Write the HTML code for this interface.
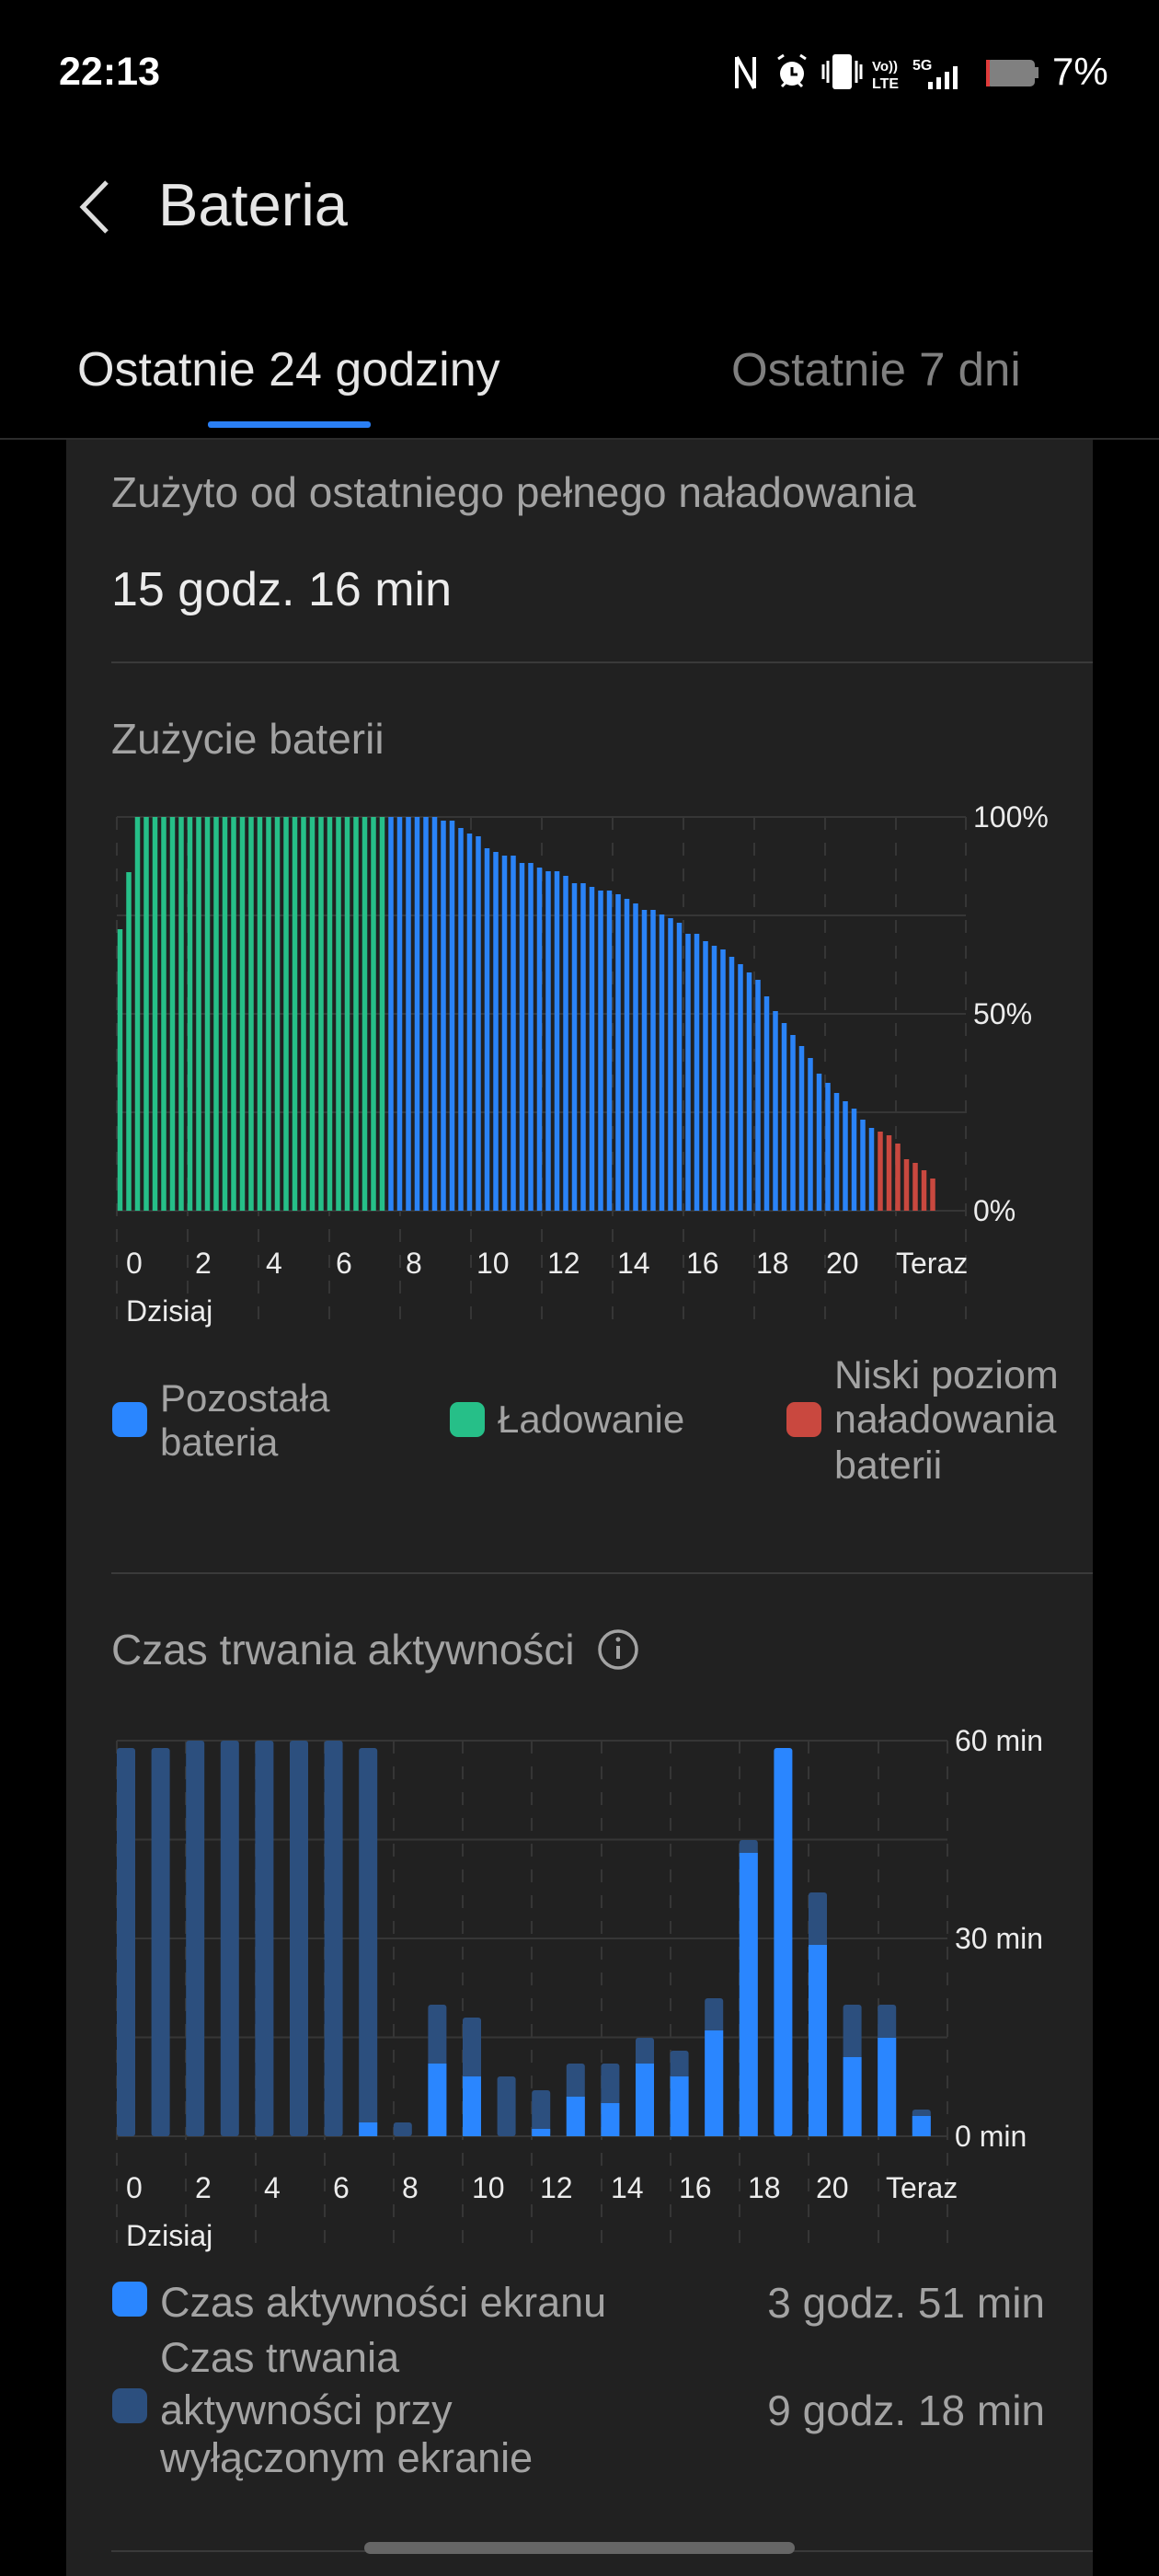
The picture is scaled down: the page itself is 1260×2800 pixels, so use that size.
<!DOCTYPE html>
<html><head><meta charset="utf-8">
<style>
*{margin:0;padding:0;box-sizing:border-box}
body{width:1260px;height:2800px;background:#000;position:relative;overflow:hidden;font-family:"Liberation Sans",sans-serif}
.t{position:absolute;white-space:nowrap;height:60px;line-height:60px}
.card{position:absolute;left:72px;top:478px;width:1116px;height:2322px;background:#212121}
.g{color:#a3a3a3}
.sq{position:absolute;width:38px;height:38px;border-radius:9px}
</style></head><body>
<div class="t" style="left:64px;top:48px;font-size:43px;color:#fff;font-weight:bold">22:13</div>
<svg style="position:absolute;left:780px;top:40px" width="440" height="80">
<path d="M21 22 V56 M21 22 L40 56 M40 22 V56" stroke="#fff" stroke-width="4" fill="none"/>
<circle cx="81" cy="40" r="13" fill="#fff"/><path d="M81 33 V41 H87" stroke="#000" stroke-width="3" fill="none"/>
<path d="M66 24 L72 20 M96 24 L90 20 M70 54 L74 50 M92 54 L88 50" stroke="#fff" stroke-width="3"/>
<rect x="125" y="19" width="21" height="38" rx="3" fill="#fff"/>
<path d="M115 30 V46 M120 26 V50 M151 26 V50 M156 30 V46" stroke="#fff" stroke-width="3"/>
<text x="168" y="37" font-size="15" font-weight="bold" fill="#fff" font-family="Liberation Sans">Vo))</text>
<text x="168" y="56" font-size="16" font-weight="bold" fill="#fff" font-family="Liberation Sans">LTE</text>
<text x="212" y="36" font-size="16" font-weight="bold" fill="#fff" font-family="Liberation Sans">5G</text>
<rect x="229" y="49" width="5" height="8" fill="#fff"/><rect x="238" y="44" width="5" height="13" fill="#fff"/><rect x="247" y="38" width="5" height="19" fill="#fff"/><rect x="256" y="32" width="5" height="25" fill="#fff"/>
<rect x="292" y="25" width="53" height="29" rx="5" fill="#808080"/><rect x="345" y="33" width="4" height="12" fill="#808080"/><rect x="292" y="25" width="4" height="29" fill="#e03b3b"/>
</svg>
<div class="t" style="left:1144px;top:48px;font-size:42px;color:#fff">7%</div>
<svg style="position:absolute;left:80px;top:195px" width="40" height="60"><path d="M36 3 L10 30 L36 57" stroke="#ddd" stroke-width="5" fill="none"/></svg>
<div class="t" style="left:172px;top:193px;font-size:65px;color:#e6e6e6">Bateria</div>
<div class="t" style="left:84px;top:372px;font-size:52px;color:#e6e6e6">Ostatnie 24 godziny</div>
<div class="t" style="left:795px;top:372px;font-size:51px;color:#7f7f7f">Ostatnie 7 dni</div>
<div style="position:absolute;left:226px;top:458px;width:177px;height:7px;border-radius:3px;background:#2a7ff5"></div>
<div style="position:absolute;left:0;top:476px;width:1260px;height:2px;background:#2c2c2c"></div>
<div class="card"></div>
<div class="t g" style="left:121px;top:505px;font-size:46px">Zużyto od ostatniego pełnego naładowania</div>
<div class="t" style="left:121px;top:611px;font-size:52px;color:#ececec">15 godz. 16 min</div>
<div style="position:absolute;left:121px;top:719px;width:1067px;height:2px;background:#3a3a3a"></div>
<div class="t g" style="left:121px;top:773px;font-size:46px">Zużycie baterii</div>

<svg style="position:absolute;left:0;top:0" width="1260" height="2800">
<g stroke="#363636" stroke-width="2">
<path d="M127 888 H1050 M127 995 H1050 M127 1102 H1050 M127 1209 H1050 M127 1316 H1050"/>
<path stroke-dasharray="14 14" d="M127 888 V1445 M204 888 V1445 M281 888 V1445 M358 888 V1445 M435 888 V1445 M512 888 V1445 M589 888 V1445 M666 888 V1445 M743 888 V1445 M820 888 V1445 M897 888 V1445 M974 888 V1445 M1050 888 V1445"/>
</g>
<path stroke="#26bf88" stroke-width="5.5" fill="none" d="M130.5 1316V1010 M140 1316V948 M149.5 1316V888 M159 1316V888 M168.5 1316V888 M178 1316V888 M187.5 1316V888 M197 1316V888 M206.5 1316V888 M216 1316V888 M225.5 1316V888 M235 1316V888 M244.5 1316V888 M254 1316V888 M263.5 1316V888 M273 1316V888 M282.5 1316V888 M292 1316V888 M301.5 1316V888 M311 1316V888 M320.5 1316V888 M330 1316V888 M339.5 1316V888 M349 1316V888 M358.5 1316V888 M368 1316V888 M377.5 1316V888 M387 1316V888 M396.5 1316V888 M406 1316V888 M415.5 1316V888"/>
<path stroke="#2a83f7" stroke-width="5.5" fill="none" d="M425 1316V888 M434.5 1316V888 M444 1316V888 M453.5 1316V888 M463 1316V888 M472.5 1316V888 M482 1316V892 M491.5 1316V892 M501 1316V900 M510.5 1316V906 M520 1316V909 M529.5 1316V922 M539 1316V926 M548.5 1316V930 M558 1316V930 M567.5 1316V938 M577 1316V938 M586.5 1316V943 M596 1316V947 M605.5 1316V947 M615 1316V952 M624.5 1316V960 M634 1316V960 M643.5 1316V964 M653 1316V968 M662.5 1316V968 M672 1316V972 M681.5 1316V977 M691 1316V982 M700.5 1316V989 M710 1316V989 M719.5 1316V994 M729 1316V998 M738.5 1316V1003 M748 1316V1015 M757.5 1316V1015 M767 1316V1023 M776.5 1316V1028 M786 1316V1032 M795.5 1316V1040 M805 1316V1048 M814.5 1316V1057 M824 1316V1065 M833.5 1316V1083 M843 1316V1099 M852.5 1316V1112 M862 1316V1125 M871.5 1316V1137 M881 1316V1150 M890.5 1316V1167 M900 1316V1177 M909.5 1316V1188 M919 1316V1197 M928.5 1316V1205 M938 1316V1217 M947.5 1316V1226"/>
<path stroke="#c9483f" stroke-width="5.5" fill="none" d="M957 1316V1230 M966.5 1316V1234 M976 1316V1243 M985.5 1316V1260 M995 1316V1264 M1004.5 1316V1272 M1014 1316V1281"/>
<g font-family="Liberation Sans" font-size="32" fill="#ececec">
<text x="1058" y="899">100%</text><text x="1058" y="1113">50%</text><text x="1058" y="1327">0%</text>
<text x="137" y="1384">0</text><text x="212" y="1384">2</text><text x="289" y="1384">4</text><text x="365" y="1384">6</text><text x="441" y="1384">8</text><text x="518" y="1384">10</text><text x="595" y="1384">12</text><text x="671" y="1384">14</text><text x="746" y="1384">16</text><text x="822" y="1384">18</text><text x="898" y="1384">20</text><text x="974" y="1384">Teraz</text>
<text x="137" y="1436">Dzisiaj</text>
</g>

<g stroke="#363636" stroke-width="2">
<path d="M127 1892 H1030 M127 1999.5 H1030 M127 2107 H1030 M127 2214.5 H1030 M127 2322 H1030"/>
<path stroke-dasharray="14 14" d="M127 1892 V2445 M202 1892 V2445 M278 1892 V2445 M353 1892 V2445 M428 1892 V2445 M503 1892 V2445 M578 1892 V2445 M654 1892 V2445 M729 1892 V2445 M804 1892 V2445 M879 1892 V2445 M955 1892 V2445 M1030 1892 V2445"/>
</g>
<g fill="#2c4f7e">
<rect x="127" y="1900" width="20" height="422" rx="3"/><rect x="164.6" y="1900" width="20" height="422" rx="3"/><rect x="202.2" y="1892" width="20" height="430" rx="3"/><rect x="239.8" y="1892" width="20" height="430" rx="3"/><rect x="277.4" y="1892" width="20" height="430" rx="3"/><rect x="315" y="1892" width="20" height="430" rx="3"/><rect x="352.6" y="1892" width="20" height="430" rx="3"/><rect x="390.2" y="1900" width="20" height="422" rx="3"/><rect x="427.8" y="2307" width="20" height="15" rx="3"/><rect x="465.4" y="2179" width="20" height="143" rx="3"/><rect x="503" y="2193" width="20" height="129" rx="3"/><rect x="540.6" y="2257" width="20" height="65" rx="3"/><rect x="578.2" y="2272" width="20" height="50" rx="3"/><rect x="615.8" y="2243" width="20" height="79" rx="3"/><rect x="653.4" y="2243" width="20" height="79" rx="3"/><rect x="691" y="2215" width="20" height="107" rx="3"/><rect x="728.6" y="2229" width="20" height="93" rx="3"/><rect x="766.2" y="2172" width="20" height="150" rx="3"/><rect x="803.8" y="2000" width="20" height="322" rx="3"/><rect x="879" y="2057" width="20" height="265" rx="3"/><rect x="916.6" y="2179" width="20" height="143" rx="3"/><rect x="954.2" y="2179" width="20" height="143" rx="3"/><rect x="991.8" y="2293" width="20" height="29" rx="3"/>
</g>
<g fill="#2a86ff">
<rect x="390.2" y="2307" width="20" height="15"/><rect x="465.4" y="2243" width="20" height="79"/><rect x="503" y="2257" width="20" height="65"/><rect x="578.2" y="2314" width="20" height="8"/><rect x="615.8" y="2279" width="20" height="43"/><rect x="653.4" y="2286" width="20" height="36"/><rect x="691" y="2243" width="20" height="79"/><rect x="728.6" y="2257" width="20" height="65"/><rect x="766.2" y="2207" width="20" height="115"/><rect x="803.8" y="2014" width="20" height="308"/><rect x="841.4" y="1900" width="20" height="422" rx="3"/><rect x="879" y="2114" width="20" height="208"/><rect x="916.6" y="2236" width="20" height="86"/><rect x="954.2" y="2215" width="20" height="107"/><rect x="991.8" y="2300" width="20" height="22"/>
</g>
<g font-family="Liberation Sans" font-size="32" fill="#ececec">
<text x="1038" y="1903">60 min</text><text x="1038" y="2118">30 min</text><text x="1038" y="2333">0 min</text>
<text x="137" y="2389">0</text><text x="212" y="2389">2</text><text x="287" y="2389">4</text><text x="362" y="2389">6</text><text x="437" y="2389">8</text><text x="513" y="2389">10</text><text x="587" y="2389">12</text><text x="664" y="2389">14</text><text x="738" y="2389">16</text><text x="813" y="2389">18</text><text x="887" y="2389">20</text><text x="963" y="2389">Teraz</text>
<text x="137" y="2441">Dzisiaj</text>
</g>
<circle cx="672" cy="1793" r="20" fill="none" stroke="#a3a3a3" stroke-width="3.5"/>
<rect x="670" y="1789" width="4" height="14" fill="#a3a3a3"/><circle cx="672" cy="1782" r="2.5" fill="#a3a3a3"/>
</svg>

<div class="sq" style="left:122px;top:1524px;background:#2a86ff"></div>
<div class="t g" style="left:174px;top:1490px;font-size:42px">Pozostała</div>
<div class="t g" style="left:174px;top:1538px;font-size:42px">bateria</div>
<div class="sq" style="left:489px;top:1524px;background:#26bf88"></div>
<div class="t g" style="left:541px;top:1513px;font-size:42px">Ładowanie</div>
<div class="sq" style="left:855px;top:1524px;background:#c9483f"></div>
<div class="t g" style="left:907px;top:1465px;font-size:43px">Niski poziom</div>
<div class="t g" style="left:907px;top:1513px;font-size:43px">naładowania</div>
<div class="t g" style="left:907px;top:1563px;font-size:43px">baterii</div>
<div style="position:absolute;left:121px;top:1709px;width:1067px;height:2px;background:#3a3a3a"></div>
<div class="t g" style="left:121px;top:1763px;font-size:46px">Czas trwania aktywności</div>

<div class="sq" style="left:122px;top:2480px;background:#2a86ff"></div>
<div class="t g" style="left:174px;top:2473px;font-size:45px">Czas aktywności ekranu</div>
<div class="t g" style="right:124px;top:2473px;font-size:46px">3 godz. 51 min</div>
<div class="sq" style="left:122px;top:2596px;background:#2c4f7e"></div>
<div class="t g" style="left:174px;top:2533px;font-size:45px">Czas trwania</div>
<div class="t g" style="left:174px;top:2590px;font-size:45px">aktywności przy</div>
<div class="t g" style="left:174px;top:2642px;font-size:45px">wyłączonym ekranie</div>
<div class="t g" style="right:124px;top:2590px;font-size:46px">9 godz. 18 min</div>
<div style="position:absolute;left:121px;top:2772px;width:1067px;height:2px;background:#3a3a3a"></div>
<div style="position:absolute;left:396px;top:2763px;width:468px;height:13px;border-radius:7px;background:#666"></div>
</body></html>
